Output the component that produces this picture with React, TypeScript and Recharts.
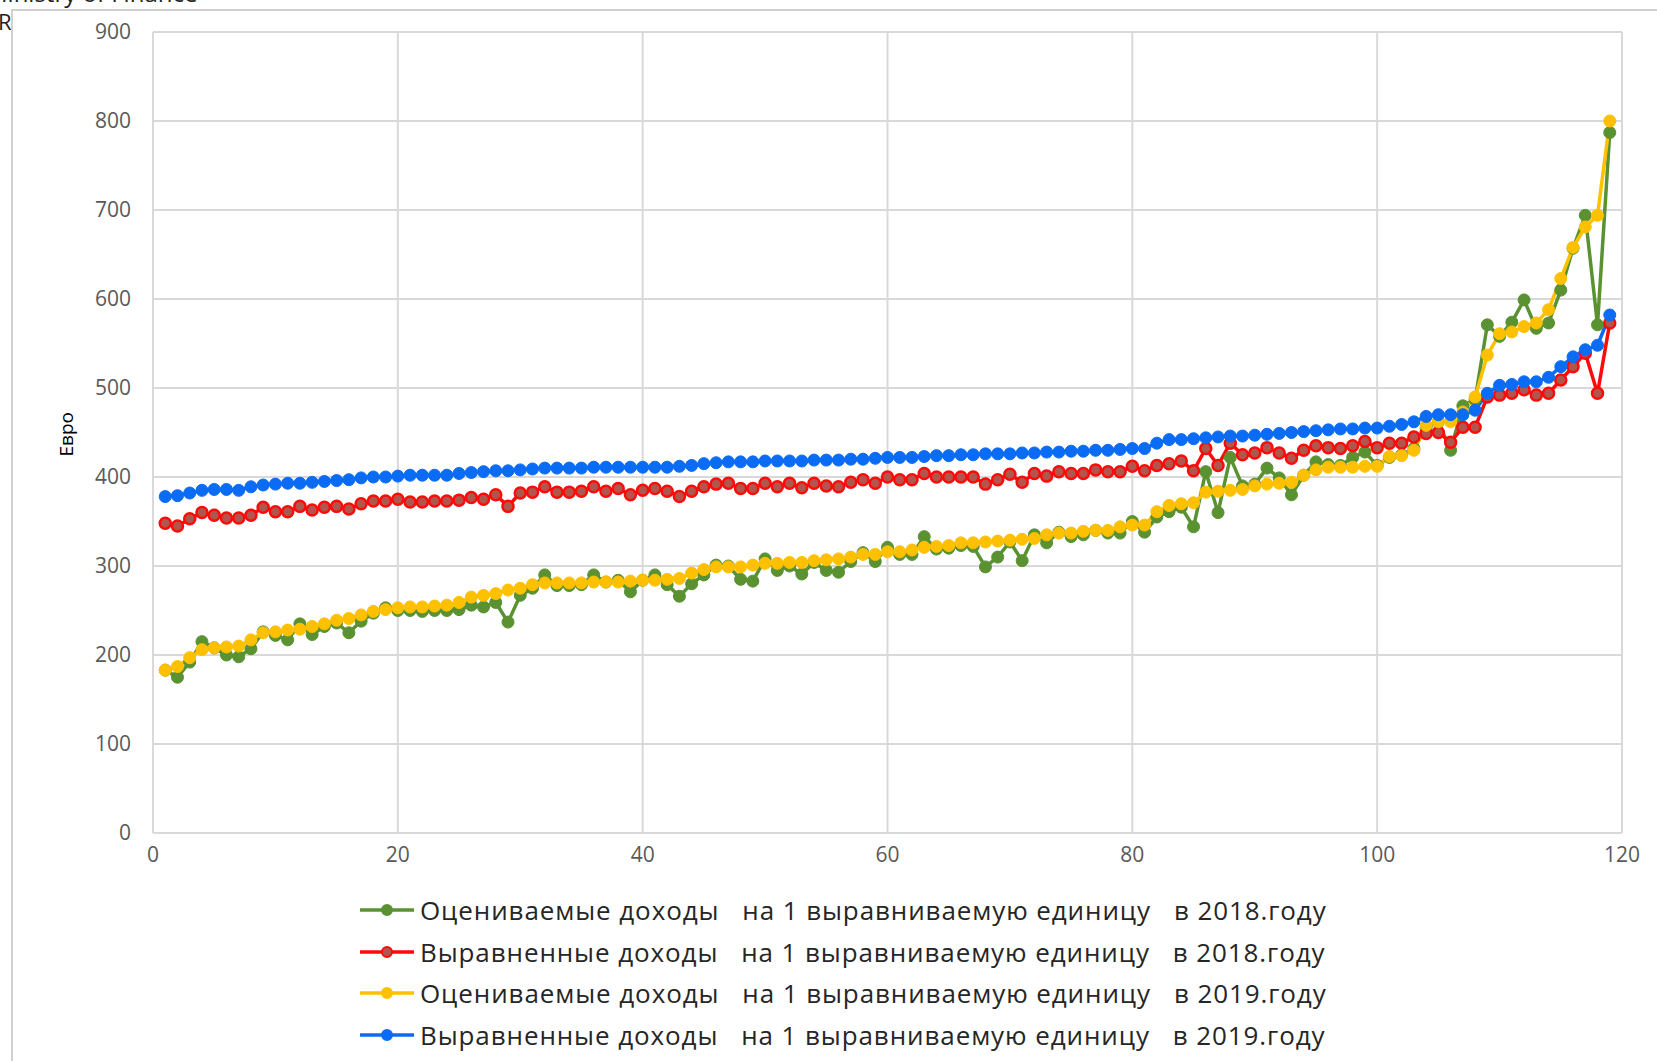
import React from 'react';
import { LineChart, Line, XAxis, YAxis, CartesianGrid } from 'recharts';

// Оцениваемые доходы на 1 выравниваемую единицу, 2018 (units 1..119)
const estimated2018 = [
  183, 175, 192, 215, 208, 200, 198, 207, 226, 222, 217, 235, 223, 232, 236, 225, 238, 247, 253, 250,
  250, 249, 250, 250, 251, 256, 254, 259, 237, 267, 275, 290, 278, 278, 279, 290, 282, 284, 271, 284,
  290, 279, 266, 280, 290, 301, 300, 285, 283, 308, 295, 300, 291, 304, 295, 293, 305, 315, 305, 321,
  313, 313, 333, 319, 320, 323, 322, 299, 310, 327, 306, 335, 326, 338, 333, 335, 340, 337, 337, 350,
  338, 355, 361, 366, 344, 406, 360, 422, 390, 392, 410, 399, 380, 402, 417, 414, 413, 422, 428, 413,
  422, 425, 432, 455, 462, 430, 480, 487, 571, 558, 574, 599, 567, 573, 610, 657, 694, 571, 787,
];

// Выравненные доходы на 1 выравниваемую единицу, 2018
const equalized2018 = [
  348, 345, 353, 360, 357, 354, 354, 357, 366, 361, 361, 367, 363, 366, 367, 364, 370, 373, 373, 375,
  372, 372, 373, 373, 374, 377, 375, 380, 367, 382, 383, 389, 383, 383, 384, 389, 384, 387, 380, 385,
  387, 384, 378, 384, 389, 392, 393, 387, 387, 393, 389, 393, 388, 393, 390, 389, 394, 397, 393, 400,
  397, 397, 404, 400, 400, 400, 400, 392, 397, 403, 394, 404, 401, 406, 404, 404, 408, 406, 406, 412,
  407, 413, 415, 418, 407, 432, 413, 438, 425, 427, 433, 427, 421, 430, 435, 433, 432, 435, 440, 433,
  438, 438, 445, 449, 450, 439, 456, 456, 490, 492, 494, 498, 492, 494, 509, 524, 539, 494, 573,
];

// Оцениваемые доходы на 1 выравниваемую единицу, 2019
const estimated2019 = [
  183, 187, 197, 206, 208, 209, 210, 217, 225, 226, 228, 229, 232, 235, 239, 241, 245, 249, 251, 253,
  254, 254, 255, 256, 259, 265, 267, 269, 273, 275, 279, 281, 281, 281, 281, 282, 282, 282, 283, 284,
  284, 285, 286, 292, 296, 299, 299, 299, 301, 303, 303, 304, 304, 306, 307, 308, 310, 313, 313, 316,
  316, 318, 321, 322, 323, 326, 326, 327, 328, 329, 330, 331, 335, 337, 337, 339, 340, 340, 344, 346,
  346, 361, 368, 370, 371, 383, 384, 385, 386, 390, 392, 393, 394, 402, 408, 411, 411, 411, 412, 412,
  423, 424, 430, 458, 462, 462, 473, 490, 537, 561, 563, 569, 573, 588, 623, 658, 681, 694, 800,
];

// Выравненные доходы на 1 выравниваемую единицу, 2019
const equalized2019 = [
  378, 379, 382, 385, 386, 386, 385, 389, 391, 392, 393, 393, 394, 395, 396, 397, 399, 400, 400, 401,
  402, 402, 402, 402, 404, 405, 406, 407, 407, 408, 409, 410, 410, 410, 410, 411, 411, 411, 411, 411,
  411, 411, 412, 413, 415, 416, 417, 417, 417, 418, 418, 418, 418, 419, 419, 419, 420, 420, 421, 422,
  422, 422, 423, 424, 424, 425, 425, 426, 426, 426, 427, 427, 428, 428, 429, 429, 430, 430, 431, 432,
  432, 438, 442, 442, 443, 444, 445, 446, 446, 447, 448, 449, 450, 451, 452, 453, 454, 454, 455, 455,
  457, 459, 462, 468, 470, 470, 470, 475, 494, 503, 504, 507, 507, 512, 524, 535, 543, 548, 582,
];

const xTicks = [0, 20, 40, 60, 80, 100, 120];
const yTicks = [0, 100, 200, 300, 400, 500, 600, 700, 800, 900];

const seriesNames = [
  'Оцениваемые доходы   на 1 выравниваемую единицу   в 2018.году',
  'Выравненные доходы   на 1 выравниваемую единицу   в 2018.году',
  'Оцениваемые доходы   на 1 выравниваемую единицу   в 2019.году',
  'Выравненные доходы   на 1 выравниваемую единицу   в 2019.году',
];

const data = estimated2018.map((v, i) => ({
  unit: i + 1,
  est18: v,
  eq18: equalized2018[i],
  est19: estimated2019[i],
  eq19: equalized2019[i],
}));

const GREEN = '#5a9232';
const RED = '#ff0a0a';
const RED_FILL = '#b0564c';
const YELLOW = '#ffc000';
const BLUE = '#0a6cf5';

const legendItems = [
  { name: seriesNames[0], stroke: GREEN, fill: GREEN },
  { name: seriesNames[1], stroke: RED, fill: RED_FILL },
  { name: seriesNames[2], stroke: YELLOW, fill: YELLOW },
  { name: seriesNames[3], stroke: BLUE, fill: BLUE },
];

const tickStyle = { fill: '#595959', fontSize: 21, fontFamily: 'Open Sans' };

export default function App() {
  return (
    <div
      style={{
        position: 'absolute',
        left: 0,
        top: 0,
        width: 1657,
        height: 1061,
        overflow: 'hidden',
        background: '#fff',
        fontFamily: 'Open Sans, sans-serif',
      }}
    >
      {/* cut-off header from the source document */}
      <div style={{ position: 'absolute', left: -14, top: -22, fontSize: 24, color: '#222', lineHeight: '30px' }}>
        Ministry of Finance
      </div>
      <div style={{ position: 'absolute', left: -2, top: 9, fontSize: 22, color: '#222', lineHeight: '24px' }}>R</div>

      {/* chart frame */}
      <div
        style={{
          position: 'absolute',
          left: 11,
          top: 9,
          width: 1700,
          height: 1100,
          borderTop: '2px solid #d0d0d0',
          borderLeft: '2px solid #d0d0d0',
        }}
      />

      <div style={{ position: 'absolute', left: 0, top: 0 }}>
        <LineChart
          width={1657}
          height={880}
          data={data}
          margin={{ top: 32, right: 35, left: 93, bottom: 7 }}
        >
          <CartesianGrid stroke="#d9d9d9" strokeWidth={2} />
          <XAxis
            dataKey="unit"
            type="number"
            domain={[0, 120]}
            ticks={xTicks}
            axisLine={false}
            tickLine={false}
            tick={tickStyle}
            height={40}
            dy={6}
          />
          <YAxis
            type="number"
            domain={[0, 900]}
            ticks={yTicks}
            axisLine={false}
            tickLine={false}
            tick={tickStyle}
            width={60}
            dx={-14}
            label={{
              value: 'Евро',
              angle: -90,
              position: 'insideLeft',
              dx: -32,
              dy: 24,
              style: { fill: '#000', fontSize: 19, fontFamily: 'Open Sans' },
            }}
          />
          <Line
            dataKey="est18"
            name={seriesNames[0]}
            stroke={GREEN}
            strokeWidth={3.5}
            dot={{ r: 6, fill: GREEN, stroke: GREEN, strokeWidth: 1 }}
            isAnimationActive={false}
          />
          <Line
            dataKey="eq18"
            name={seriesNames[1]}
            stroke={RED}
            strokeWidth={3.5}
            dot={{ r: 5.5, fill: RED_FILL, stroke: RED, strokeWidth: 2.5 }}
            isAnimationActive={false}
          />
          <Line
            dataKey="est19"
            name={seriesNames[2]}
            stroke={YELLOW}
            strokeWidth={3.5}
            dot={{ r: 6, fill: YELLOW, stroke: YELLOW, strokeWidth: 1 }}
            isAnimationActive={false}
          />
          <Line
            dataKey="eq19"
            name={seriesNames[3]}
            stroke={BLUE}
            strokeWidth={3.5}
            dot={{ r: 6, fill: BLUE, stroke: BLUE, strokeWidth: 1 }}
            isAnimationActive={false}
          />
        </LineChart>
      </div>

      {/* legend */}
      {legendItems.map((item, i) => (
        <div
          key={i}
          style={{
            position: 'absolute',
            left: 360,
            top: 891 + i * 41.7,
            height: 38,
            display: 'flex',
            alignItems: 'center',
          }}
        >
          <svg width={56} height={20} style={{ marginRight: 4 }}>
            <line x1={0} y1={10} x2={54} y2={10} stroke={item.stroke} strokeWidth={3.5} />
            <circle cx={27} cy={10} r={5} fill={item.fill} stroke={item.stroke} strokeWidth={2} />
          </svg>
          <span
            style={{
              whiteSpace: 'pre',
              fontSize: 26,
              color: '#262626',
              letterSpacing: 0.9,
            }}
          >
            {item.name}
          </span>
        </div>
      ))}
    </div>
  );
}
